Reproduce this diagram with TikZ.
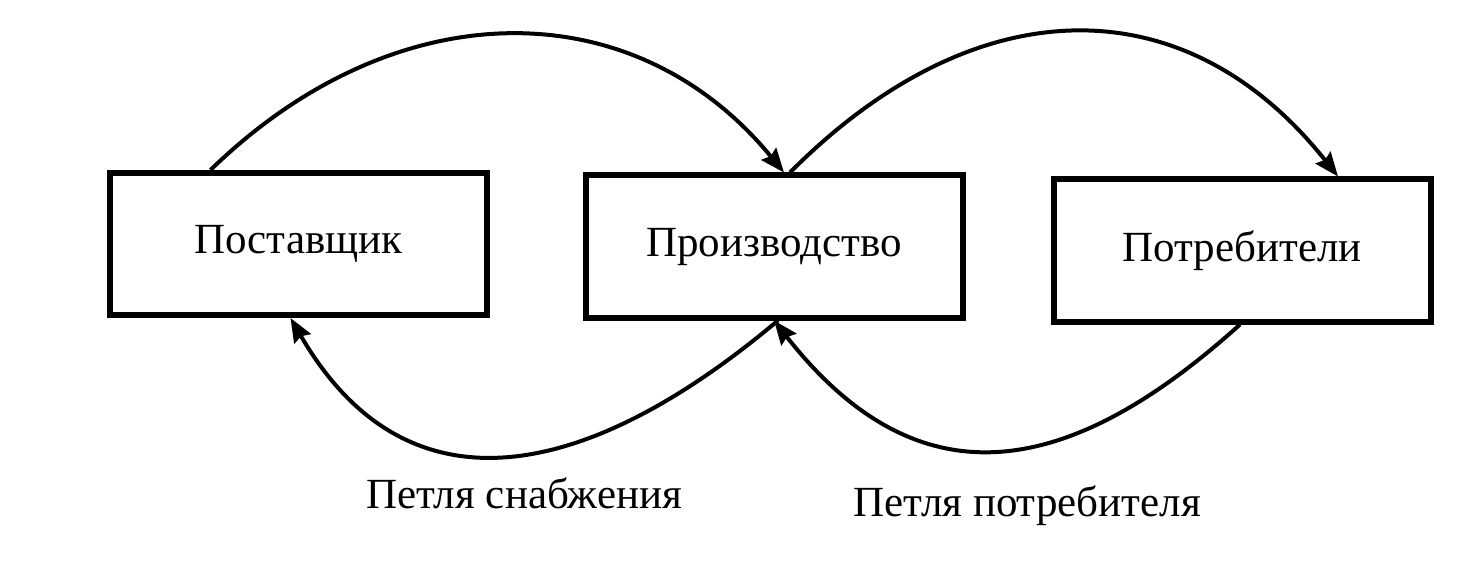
\documentclass[tikz,border=0pt]{standalone}
\usepackage{fontspec}
\setmainfont{Liberation Serif}
\usetikzlibrary{arrows.meta}
\begin{document}
\begin{tikzpicture}[x=1pt,y=-1pt,
  box/.style={draw,line width=6pt,minimum width=377pt,minimum height=142pt,inner sep=0pt,font=\fontsize{43}{50}\selectfont},
  lbl/.style={inner sep=0pt,font=\fontsize{43}{50}\selectfont},
  conn/.style={line width=4pt,-{Stealth[length=24pt,width=19pt,inset=3pt]}}]
\useasboundingbox (0,0) rectangle (1484,564);
\node[box] (sup) at (298.5,244) {Поставщик};
\node[box] (prod) at (774,246.5) {Производство};
\node[box] (cons) at (1242,250.5) {Потребители};
\node[lbl,anchor=base] (l1) at (524,508) {Петля снабжения};
\node[lbl,anchor=base] (l2) at (1027,516) {Петля потребителя};
\draw[conn] ([xshift=-88pt]sup.north) .. controls +(185,-180) and +(-150,-183) .. ([xshift=10pt]prod.north);
\draw[conn] ([xshift=16pt]prod.north) .. controls +(185,-186) and +(-153,-193) .. ([xshift=96pt]cons.north);
\draw[conn] ([xshift=4pt]prod.south) .. controls +(-183,154) and +(120,207) .. ([xshift=-8pt]sup.south);
\draw[conn] ([xshift=-2pt]cons.south) .. controls +(-173,156) and +(144,184) .. ([xshift=0pt]prod.south);
\end{tikzpicture}
\end{document}
